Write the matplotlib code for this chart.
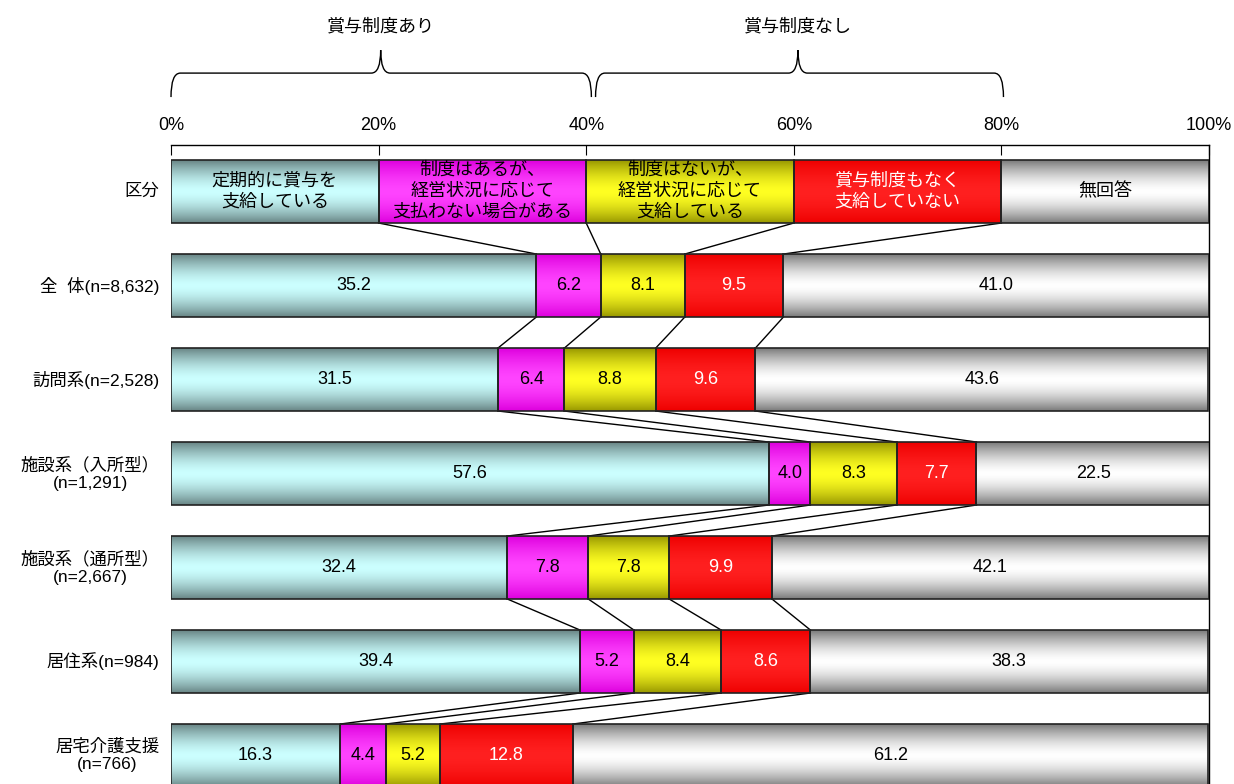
import numpy as np
import matplotlib
matplotlib.use('Agg')
import matplotlib.pyplot as plt
from matplotlib.patches import Rectangle, PathPatch
from matplotlib.path import Path

plt.rcParams['font.family'] = ['Liberation Sans', 'Noto Sans CJK JP']

# data
row_labels = ['全  体(n=8,632)', '訪問系(n=2,528)', '施設系（入所型）\n(n=1,291)',
              '施設系（通所型）\n(n=2,667)', '居住系(n=984)', '居宅介護支援\n(n=766)']
categories = ['定期的に賞与を\n支給している', '制度はあるが、\n経営状況に応じて\n支払わない場合がある',
              '制度はないが、\n経営状況に応じて\n支給している', '賞与制度もなく\n支給していない', '無回答']
regular = [35.2, 31.5, 57.6, 32.4, 39.4, 16.3]
has_not_paid = [6.2, 6.4, 4.0, 7.8, 5.2, 4.4]
none_paid = [8.1, 8.8, 8.3, 7.8, 8.4, 5.2]
none_none = [9.5, 9.6, 7.7, 9.9, 8.6, 12.8]
no_answer = [41.0, 43.6, 22.5, 42.1, 38.3, 61.2]
groups = ['賞与制度あり', '賞与制度なし']

series = [regular, has_not_paid, none_paid, none_none, no_answer]
centers = ['#CCFFFF', '#FF44FF', '#FFFF22', '#FF2020', '#FFFFFF']
edges = ['#688585', '#DD00DD', '#989800', '#EE0000', '#7A7A7A']
text_colors = ['black', 'black', 'black', 'white', 'black']
FS = 13


def gradient(c, e, n=120):
    c = np.array(matplotlib.colors.to_rgb(c))
    e = np.array(matplotlib.colors.to_rgb(e))
    s = np.linspace(-1, 1, n)
    t = (np.abs(s) ** 1.6)[:, None]
    return (c * (1 - t) + e * t)[:, None, :]


fig = plt.figure(figsize=(12.34, 7.84), dpi=100)
ax = fig.add_axes([171 / 1234, 0, 1038 / 1234, (784 - 145) / 784])

h = 0.67
ypos = np.arange(len(row_labels) + 1)  # row 0 = 区分 header


def draw_segment(x0, w, y, k, label, ls=1.15):
    ax.imshow(gradient(centers[k], edges[k]), extent=(x0, x0 + w, y + h / 2, y - h / 2),
              aspect='auto', interpolation='bilinear', zorder=1)
    ax.add_patch(Rectangle((x0, y - h / 2), w, h, fill=False, edgecolor='#222222',
                           lw=1.2, zorder=3))
    ax.text(x0 + w / 2, y, label, ha='center', va='center', fontsize=FS,
            color=text_colors[k], linespacing=ls, zorder=4)


# header row
cums = [list(np.cumsum([20] * 5))]
for k, cat in enumerate(categories):
    draw_segment(20 * k, 20, ypos[0], k, cat, ls=1.3)

# data rows
for i in range(len(row_labels)):
    vals = [s[i] for s in series]
    left = 0
    for k, v in enumerate(vals):
        draw_segment(left, v, ypos[i + 1], k, f'{v:.1f}')
        left += v
    cums.append(list(np.cumsum(vals)))

# connectors between rows
for i in range(len(cums) - 1):
    for k in range(4):
        ax.plot([cums[i][k], cums[i + 1][k]], [ypos[i] + h / 2, ypos[i + 1] - h / 2],
                color='black', lw=1, zorder=2)

# row labels
all_labels = ['区分'] + row_labels
for y, lab in zip(ypos, all_labels):
    ax.text(-1.1, y, lab, ha='right', va='center', multialignment='center',
            fontsize=12.5, linespacing=1.2)


# braces
def brace(x0, x1, xm, yb, yl, yt, r=0.9):
    verts = [(x0, yb), (x0, yl), (x0 + r, yl), (xm - r, yl), (xm, yl), (xm, yt),
             (xm, yl), (xm + r, yl), (x1 - r, yl), (x1, yl), (x1, yb)]
    codes = [Path.MOVETO, Path.CURVE3, Path.CURVE3, Path.LINETO, Path.CURVE3, Path.CURVE3,
             Path.CURVE3, Path.CURVE3, Path.LINETO, Path.CURVE3, Path.CURVE3]
    ax.add_patch(PathPatch(Path(verts, codes), fill=False, lw=1, edgecolor='black',
                           clip_on=False))


yb, yl, yt, ytxt = -1.005, -1.26, -1.505, -1.75
brace(0, 40.5, 20.2, yb, yl, yt)
brace(40.9, 80.2, 60.4, yb, yl, yt)
ax.text(20.2, ytxt, groups[0], ha='center', va='center', fontsize=FS, clip_on=False)
ax.text(60.4, ytxt, groups[1], ha='center', va='center', fontsize=FS, clip_on=False)

ax.set_xlim(0, 100)
ax.set_ylim(6.303, -0.495)
ax.xaxis.tick_top()
ax.set_xticks(range(0, 101, 20))
ax.set_xticklabels([f'{t}%' for t in range(0, 101, 20)], fontsize=FS)
ax.tick_params(axis='x', direction='in', length=7, pad=8)
ax.set_yticks([])
for s in ['left', 'bottom']:
    ax.spines[s].set_visible(False)
ax.spines['top'].set_linewidth(1)
ax.spines['right'].set_linewidth(1)

fig.savefig('out.png', dpi=100)
